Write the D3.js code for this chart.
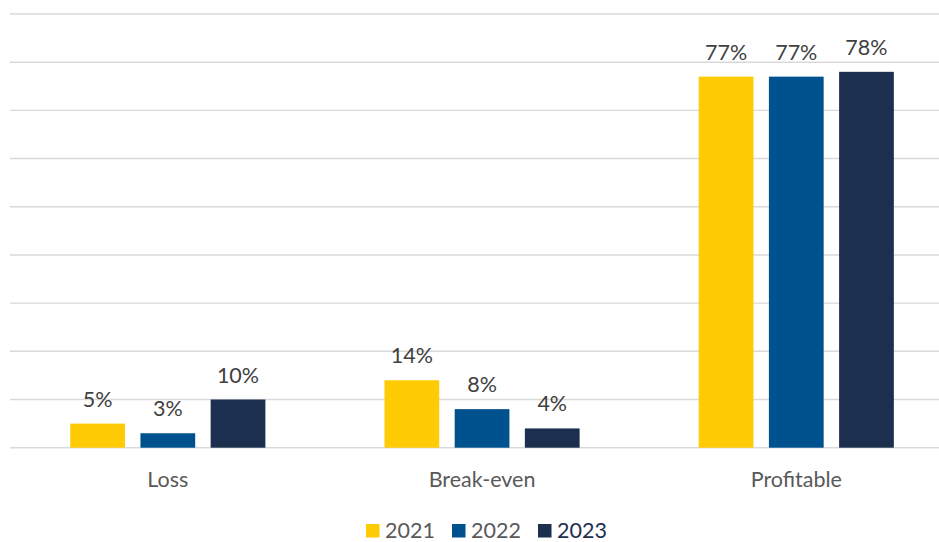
<!DOCTYPE html>
<html>
<head>
<meta charset="utf-8">
<script src="https://cdn.jsdelivr.net/npm/d3@7"></script>
<style>
  html, body { margin: 0; padding: 0; background: #fff; }
  svg { display: block; font-family: Lato, "Open Sans", sans-serif; }
</style>
</head>
<body>
<svg id="chart" width="939" height="542"></svg>
<script>
// Profitability outcome shares by year
const categories = ["Loss", "Break-even", "Profitable"];
const years = ["2021", "2022", "2023"];
const values2021 = [5, 14, 77];
const values2022 = [3, 8, 77];
const values2023 = [10, 4, 78];
const yTicks = [0, 10, 20, 30, 40, 50, 60, 70, 80, 90];
const colors = ["#FFCB05", "#00528F", "#1C2F4F"];

const series = [values2021, values2022, values2023];

const svg = d3.select("#chart");
const W = 939, H = 542;
const fontSize = 21.5;
const textColor = "#595959";

const plot = { left: 10.7, right: 953.4, top: 14, bottom: 447.7 };

const y = d3.scaleLinear().domain([0, 90]).range([plot.bottom, plot.top]);

const x0 = d3.scaleBand()
  .domain(categories)
  .range([plot.left, plot.right])
  .paddingInner(0.379)
  .paddingOuter(0.1895);

const x1 = d3.scaleBand()
  .domain(years)
  .range([0, x0.bandwidth()])
  .paddingInner(0.22)
  .paddingOuter(0);

// horizontal gridlines
svg.append("g")
  .selectAll("line")
  .data(yTicks)
  .join("line")
  .attr("x1", plot.left - 0.7)
  .attr("x2", W)
  .attr("y1", d => y(d))
  .attr("y2", d => y(d))
  .attr("stroke", "#D9D9D9")
  .attr("stroke-width", 1.4);

// bars and value labels
const groups = svg.append("g")
  .selectAll("g")
  .data(categories)
  .join("g")
  .attr("transform", d => `translate(${x0(d)},0)`);

groups.selectAll("rect")
  .data((c, ci) => years.map((yr, si) => ({ yr, si, v: series[si][ci] })))
  .join("rect")
  .attr("x", d => x1(d.yr))
  .attr("width", x1.bandwidth())
  .attr("y", d => y(d.v))
  .attr("height", d => y(0) - y(d.v))
  .attr("fill", d => colors[d.si]);

groups.selectAll("text")
  .data((c, ci) => years.map((yr, si) => ({ yr, si, v: series[si][ci] })))
  .join("text")
  .attr("x", d => x1(d.yr) + x1.bandwidth() / 2)
  .attr("y", d => y(d.v) - 17)
  .attr("text-anchor", "middle")
  .attr("font-size", fontSize)
  .attr("fill", "#404040")
  .text(d => d.v + "%");

// category axis labels
svg.append("g")
  .selectAll("text")
  .data(categories)
  .join("text")
  .attr("x", d => x0(d) + x0.bandwidth() / 2)
  .attr("y", 487)
  .attr("text-anchor", "middle")
  .attr("font-size", fontSize)
  .attr("fill", textColor)
  .text(d => d);

// legend
const legendX = [366, 452, 538];
const legend = svg.append("g")
  .selectAll("g")
  .data(years)
  .join("g")
  .attr("transform", (d, i) => `translate(${legendX[i]},0)`);

legend.append("rect")
  .attr("x", 0)
  .attr("y", 524)
  .attr("width", 13.5)
  .attr("height", 13.5)
  .attr("fill", (d, i) => colors[i]);

legend.append("text")
  .attr("x", 19)
  .attr("y", 537.5)
  .attr("font-size", fontSize)
  .attr("fill", (d, i) => i === 2 ? "#1C2F4F" : textColor)
  .text(d => d);
</script>
</body>
</html>
